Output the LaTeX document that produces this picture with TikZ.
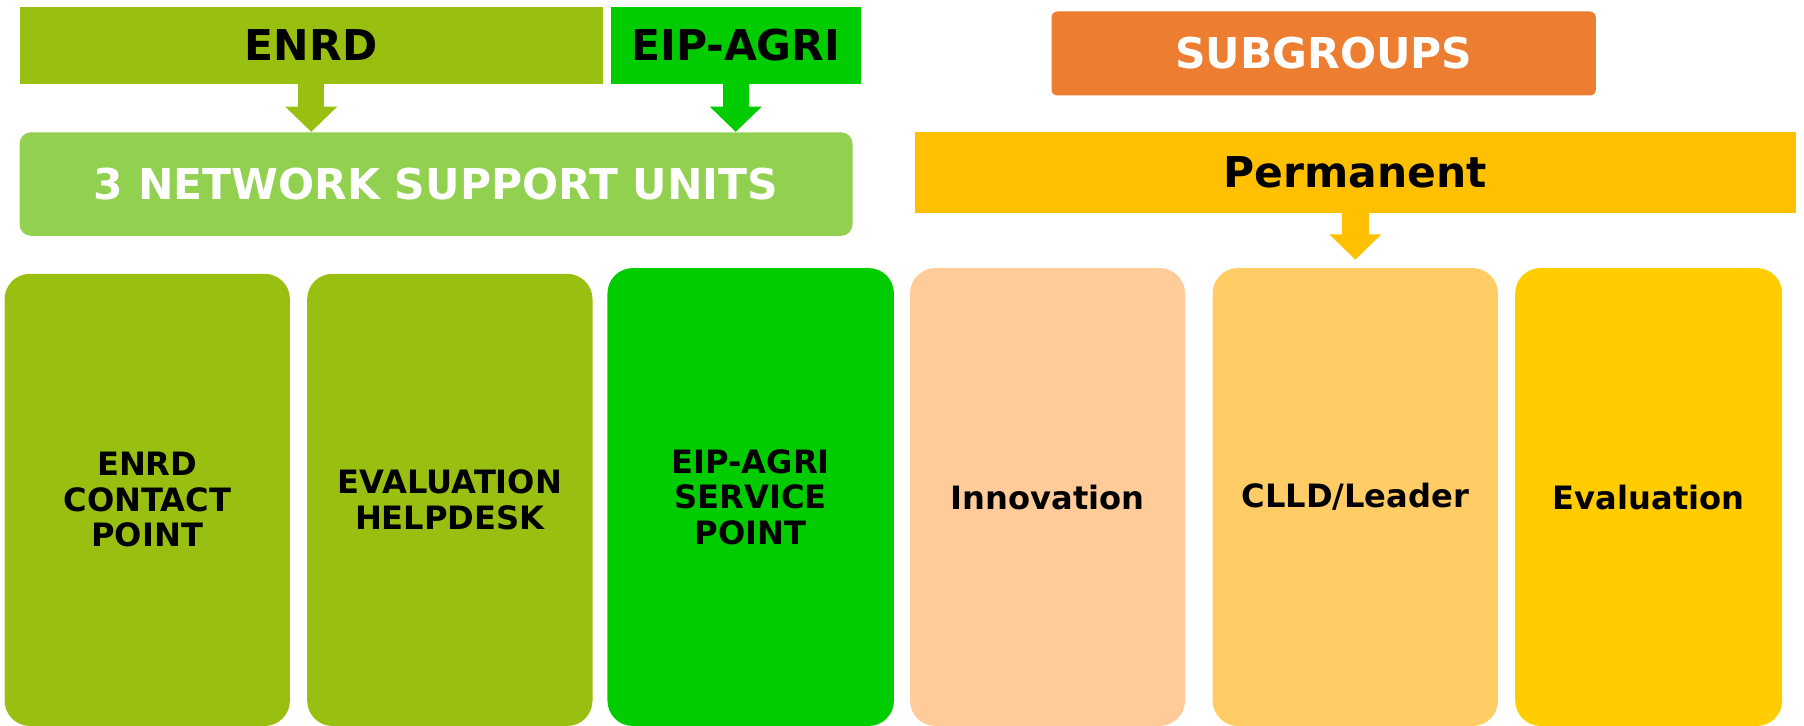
\documentclass[tikz,border=0pt]{standalone}
\usepackage{fontspec}
\setmainfont{DejaVu Sans}
\usetikzlibrary{arrows.meta}

\definecolor{enrdgreen}{HTML}{99C010}
\definecolor{eipgreen}{HTML}{00CC00}
\definecolor{nsugreen}{HTML}{92D050}
\definecolor{suborange}{HTML}{ED7D31}
\definecolor{permgold}{HTML}{FFC000}
\definecolor{innpeach}{HTML}{FFCC99}
\definecolor{clldgold}{HTML}{FFCC66}
\definecolor{evalgold}{HTML}{FFCC00}

\begin{document}
\begin{tikzpicture}[x=0.02cm,y=-0.02cm,
    sized/.style 2 args={minimum width=#1*0.02cm,minimum height=#2*0.02cm,inner sep=0pt},
    bigtext/.style={font=\fontsize{21}{25}\selectfont\bfseries},
    unittext/.style={font=\fontsize{15.9}{17.6}\selectfont\bfseries,align=center},
    unitbox/.style={rounded corners=0.44cm,unittext},
    blockarrow/.style={draw=#1,line width=0.46cm,-{Triangle[width=0.88cm,length=0.44cm]}}]
    \useasboundingbox (0,0) rectangle (1568,631);
    \node[fill=enrdgreen,sized={507}{67},bigtext] (enrd) at (270.5,39.5) {ENRD};
    \node[fill=eipgreen,sized={217}{67},bigtext] (eip) at (639.5,39.5) {EIP-AGRI};
    \node[fill=nsugreen,rounded corners=0.2cm,sized={724}{90},bigtext,text=white] (nsu) at (379,160) {3 NETWORK SUPPORT UNITS};
    \node[fill=suborange,rounded corners=0.1cm,sized={473}{73},bigtext,text=white] (sub) at (1150.5,46.5) {SUBGROUPS};
    \node[fill=permgold,sized={766}{70},bigtext] (perm) at (1178,150) {Permanent};
    \node[fill=enrdgreen,sized={248}{393},unitbox] (ecp) at (128,434.5) {ENRD\\CONTACT\\POINT};
    \node[fill=enrdgreen,sized={248}{393},unitbox] (evh) at (391,434.5) {EVALUATION\\HELPDESK};
    \node[fill=eipgreen,sized={249}{398},unitbox] (esp) at (652.5,432) {EIP-AGRI\\SERVICE\\POINT};
    \node[fill=innpeach,sized={239}{398},unitbox] (inn) at (910.5,432) {Innovation};
    \node[fill=clldgold,sized={248}{398},unitbox] (clld) at (1178,432) {CLLD/Leader};
    \node[fill=evalgold,sized={232}{398},unitbox] (eval) at (1433,432) {Evaluation};
    \draw[blockarrow=enrdgreen] (enrd.south) -- (enrd.south |- nsu.north);
    \draw[blockarrow=eipgreen] (eip.south) -- (eip.south |- nsu.north);
    \draw[blockarrow=permgold,shorten >=0.14cm] (perm.south) -- (clld.north);
\end{tikzpicture}
\end{document}
